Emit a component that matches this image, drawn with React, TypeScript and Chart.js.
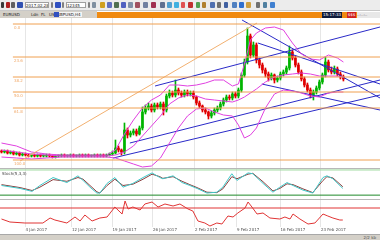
import React, { useEffect, useRef } from "react";
import { Chart, registerables } from "chart.js";
Chart.register(...registerables);

const opens = [
  1213,1212,1213,1211,1212,1210,1211,1209,1210,1209,
  1208,1209,1208,1209,1208,1208,1209,1208,1207,1208,
  1208,1209,1208,1208,1209,1208,1208,1209,1208,1209,
  1208,1208,1209,1208,1209,1208,1209,1210,1211,1216,
  1214,1212,1234,1229,1231,1233,1230,1236,1252,1256,
  1258,1254,1259,1257,1260,1254,1268,1271,1269,1274,
  1271,1269,1272,1270,1271,1267,1261,1258,1254,1252,
  1248,1251,1254,1256,1260,1264,1267,1266,1270,1268,
  1274,1289,1302,1328,1309,1319,1304,1299,1294,1290,
  1286,1289,1284,1286,1290,1292,1296,1312,1306,1299,
  1292,1285,1279,1274,1269,1272,1276,1282,1289,1302,
  1294,1292,1295,1290,1287,
];
const closes = [
  1212,1213,1211,1212,1210,1211,1209,1210,1209,1208,
  1209,1208,1209,1208,1208,1209,1208,1207,1208,1208,
  1209,1208,1208,1209,1208,1208,1209,1208,1209,1208,
  1208,1209,1208,1209,1208,1209,1210,1211,1216,1214,
  1212,1234,1229,1231,1233,1230,1236,1252,1256,1258,
  1254,1259,1257,1260,1254,1268,1271,1269,1274,1271,
  1269,1272,1270,1271,1267,1261,1258,1254,1252,1248,
  1251,1254,1256,1260,1264,1267,1266,1270,1268,1274,
  1289,1302,1328,1309,1319,1304,1299,1294,1290,1286,
  1289,1284,1286,1290,1292,1296,1312,1306,1299,1292,
  1285,1279,1274,1269,1272,1276,1282,1289,1302,1294,
  1292,1295,1290,1287,1285,
];
const highs = [
  1214,1214,1214,1213,1213,1212,1212,1211,1211,1210,
  1210,1210,1210,1210,1209,1210,1210,1209,1209,1209,
  1210,1210,1209,1210,1210,1209,1210,1210,1210,1210,
  1209,1210,1210,1210,1210,1210,1211,1213,1224,1218,
  1215,1241,1236,1233,1235,1235,1238,1257,1259,1261,
  1260,1261,1261,1262,1262,1270,1274,1273,1284,1276,
  1273,1274,1274,1273,1273,1268,1263,1259,1256,1253,
  1253,1256,1258,1262,1266,1269,1269,1272,1272,1276,
  1291,1305,1336,1330,1322,1321,1306,1301,1296,1292,
  1291,1290,1288,1292,1294,1298,1318,1314,1308,1301,
  1294,1287,1281,1276,1274,1278,1284,1291,1307,1304,
  1297,1298,1297,1292,1289,
];
const lows = [
  1211,1211,1210,1210,1209,1209,1208,1208,1208,1207,
  1207,1207,1207,1207,1207,1207,1207,1206,1206,1207,
  1207,1207,1207,1207,1207,1207,1207,1207,1207,1207,
  1207,1207,1207,1207,1207,1207,1208,1209,1210,1212,
  1209,1210,1226,1227,1229,1228,1229,1234,1250,1254,
  1252,1252,1255,1255,1249,1252,1266,1267,1267,1269,
  1267,1267,1268,1268,1265,1259,1256,1252,1250,1245,
  1246,1249,1252,1254,1258,1262,1264,1264,1266,1266,
  1272,1287,1300,1306,1307,1301,1296,1291,1287,1283,
  1284,1281,1282,1284,1288,1290,1294,1304,1297,1290,
  1283,1277,1272,1266,1264,1270,1274,1280,1287,1292,
  1290,1290,1288,1285,1283,
];

const bbIdx = [0,5,10,15,20,25,30,35,38,41,44,47,50,53,56,59,62,65,68,71,74,77,79,81,83,85,88,91,94,97,100,103,106,109,112,114];
const bbUpper = [1221,1218,1212,1210,1209,1209,1209,1209,1214,1230,1244,1256,1264,1269,1279,1279,1278,1279,1281,1284,1284,1278,1280,1300,1324,1331,1336,1337,1334,1321,1310,1305,1304,1309,1306,1302];
const bbMiddle = [1214,1212,1210,1209,1208,1208,1208,1208,1209,1212,1218,1228,1238,1248,1260,1266,1269,1268,1265,1264,1263,1262,1264,1267,1271,1275,1282,1287,1289,1290,1291,1290,1288,1288,1288,1287];
const bbLower = [1207,1206,1205,1206,1207,1207,1207,1207,1206,1203,1200,1197,1198,1206,1221,1236,1248,1255,1256,1252,1249,1248,1239,1226,1229,1236,1256,1270,1274,1273,1271,1268,1267,1271,1272,1272];

const fibLevels = [1340, 1307, 1287, 1272, 1256, 1204];
const fibLabels = ["0.0", "23.6", "38.2", "50.0", "61.8", "100.0"];
const fibStart = 3.8;
const rightEnd = 126.2;

// trend lines: [x1, price1, x2, price2]
const blueLines = [
  [80.2, 1344, 126.2, 1266],
  [85.5, 1321, 126.2, 1280],
  [51.2, 1278, 126.2, 1337],
  [42.8, 1221, 126.2, 1284],
  [37.2, 1206, 126.2, 1269],
  [86.8, 1280, 126.2, 1254],
];
const orangeLine = [6.2, 1203, 85.2, 1341];

const gridIdx = [8, 23.5, 37, 50.5, 64.5, 78.5, 93, 106.5];
const xLabels = ["4 Jan 2017", "12 Jan 2017", "19 Jan 2017", "26 Jan 2017", "2 Feb 2017", "9 Feb 2017", "16 Feb 2017", "23 Feb 2017"];

const stochX = [0,6.2,10.2,12.8,17.2,21.8,25.5,27.2,29.5,31.8,32.8,35.2,37.8,40.5,43.8,47.2,50.2,52.8,53.8,57.2,60.2,62.8,65.2,68.5,71.8,73.8,76.8,78.5,82.2,83.8,87.2,90.5,92.8,95.2,97.2,100.5,103.8,107.2,108.5,110.5,113.8];
const stochK = [43,36,29,43,62,50,66,55,39,25,25,48,62,39,48,62,73,62,59,66,50,43,36,25,27,39,71,55,73,71,48,27,39,50,43,32,25,62,66,59,36];
const stochD = [45,38,31,39,57,53,62,58,43,28,25,43,58,43,46,58,70,64,60,64,53,45,38,27,26,35,64,59,70,72,52,30,36,47,45,35,26,55,64,61,40];
const stochLevels = [80, 20];

const rsiX = [0,2.8,7.8,13.8,16.2,17.8,21.8,24.5,26.2,27.8,30.2,32.8,35.2,37.8,40.2,41.2,42.2,43.8,46.2,47.8,50.2,52.2,54.5,57.2,59.5,62.2,63.8,65.5,67.8,69.5,71.8,73.5,75.5,77.2,78.8,81.2,82.2,83.5,85.2,87.2,89.5,92.8,94.5,96.2,97.2,99.5,102.2,104.5,107.2,108.8,110.5,112.8,113.8];
const rsiV = [42.5,35,32.5,32.5,45,40,32.5,47.5,37.5,52.5,37.5,45,47.5,72.5,55,87.5,67.5,72.5,65,80,85,72.5,80,75,80,67.5,62.5,37.5,32.5,25,32.5,30,50,47.5,57.5,70,85,72.5,55,57.5,45,42.5,47.5,42.5,55,42.5,30,32.5,55,50,45,40,40];
const rsiLevel = 70;

const UP = "#00b400";
const DOWN = "#e00000";

function xScale(extra: any = {}) {
  return {
    type: "linear",
    min: -0.5,
    max: rightEnd,
    offset: false,
    display: true,
    afterBuildTicks: (axis: any) => {
      axis.ticks = gridIdx.map((v) => ({ value: v }));
    },
    ticks: { display: false },
    grid: { color: "#e6e6e6", drawTicks: false, offset: false },
    border: { display: false },
    ...extra,
  };
}

export default function App() {
  const mainRef = useRef<HTMLCanvasElement>(null);
  const stochRef = useRef<HTMLCanvasElement>(null);
  const rsiRef = useRef<HTMLCanvasElement>(null);

  useEffect(() => {
    document.body.style.margin = "0";
    const charts: Chart[] = [];
    const colors = closes.map((c, i) => (c >= opens[i] ? UP : DOWN));

    const fibLabelPlugin = {
      id: "fibLabels",
      afterDatasetsDraw(chart: any) {
        const { ctx, scales } = chart;
        ctx.save();
        ctx.font = "4px 'DejaVu Sans'";
        ctx.fillStyle = "#f0a868";
        ctx.textBaseline = "top";
        fibLevels.forEach((lv, i) => {
          const x = scales.x.getPixelForValue(fibStart) + 1;
          const y = scales.y.getPixelForValue(lv) + 2;
          ctx.fillText(fibLabels[i], x, y);
        });
        ctx.restore();
      },
    };

    const lineDs = (data: any[], color: string, width = 1) => ({
      type: "line",
      data,
      borderColor: color,
      borderWidth: width,
      pointRadius: 0,
      fill: false,
      tension: 0,
    });

    const datasets: any[] = [];
    fibLevels.forEach((lv) => {
      datasets.push(lineDs([{ x: fibStart, y: lv }, { x: rightEnd, y: lv }], "#f0a050"));
    });
    datasets.push(lineDs([{ x: orangeLine[0], y: orangeLine[1] }, { x: orangeLine[2], y: orangeLine[3] }], "#f2b070"));
    datasets.push(lineDs(bbIdx.map((x, i) => ({ x, y: bbUpper[i] })), "#e040e0"));
    datasets.push(lineDs(bbIdx.map((x, i) => ({ x, y: bbMiddle[i] })), "#e040e0"));
    datasets.push(lineDs(bbIdx.map((x, i) => ({ x, y: bbLower[i] })), "#e040e0"));
    blueLines.forEach((l) => {
      datasets.push(lineDs([{ x: l[0], y: l[1] }, { x: l[2], y: l[3] }], "#2a2ac8"));
    });
    datasets.push({
      type: "bar",
      data: closes.map((_, i) => ({ x: i, y: [lows[i], highs[i]] })),
      backgroundColor: colors,
      barThickness: 1,
      grouped: false,
      minBarLength: 1,
    });
    datasets.push({
      type: "bar",
      data: closes.map((c, i) => ({ x: i, y: [opens[i], c] })),
      backgroundColor: colors,
      barThickness: 2,
      grouped: false,
      minBarLength: 1,
    });

    const common = {
      animation: false,
      responsive: false,
      maintainAspectRatio: false,
      layout: { padding: 0 },
      plugins: { legend: { display: false }, tooltip: { enabled: false } },
    };

    charts.push(
      new Chart(mainRef.current!, {
        type: "line",
        data: { datasets },
        options: {
          ...common,
          scales: {
            x: xScale(),
            y: { min: 1196, max: 1346, display: false },
          },
        } as any,
        plugins: [fibLabelPlugin],
      } as any)
    );

    const stochLabelPlugin = {
      id: "stochLabel",
      afterDraw(chart: any) {
        const { ctx } = chart;
        ctx.save();
        ctx.font = "4px 'DejaVu Sans'";
        ctx.fillStyle = "#404040";
        ctx.textBaseline = "top";
        ctx.fillText("Stoch(5,3,3)", 2, 3);
        ctx.restore();
      },
    };

    charts.push(
      new Chart(stochRef.current!, {
        type: "line",
        data: {
          datasets: [
            lineDs([{ x: -0.5, y: stochLevels[0] }, { x: rightEnd, y: stochLevels[0] }], "#9ad89a"),
            lineDs([{ x: -0.5, y: stochLevels[1] }, { x: rightEnd, y: stochLevels[1] }], "#1f8a2a"),
            lineDs(stochX.map((x, i) => ({ x, y: stochK[i] })), "#40c8c8"),
            lineDs(stochX.map((x, i) => ({ x, y: stochD[i] })), "#8a3c3c"),
          ],
        },
        options: {
          ...common,
          scales: {
            x: xScale(),
            y: { min: 10.8, max: 82.3, display: false },
          },
        } as any,
        plugins: [stochLabelPlugin],
      } as any)
    );

    charts.push(
      new Chart(rsiRef.current!, {
        type: "line",
        data: {
          datasets: [
            lineDs([{ x: -0.5, y: rsiLevel }, { x: rightEnd, y: rsiLevel }], "#e03434"),
            lineDs(rsiX.map((x, i) => ({ x, y: rsiV[i] })), "#e03434"),
          ],
        },
        options: {
          ...common,
          scales: {
            x: xScale({
              ticks: {
                display: true,
                align: "start",
                padding: 1,
                font: { size: 4, family: "'DejaVu Sans'" },
                color: "#505050",
                maxRotation: 0,
                autoSkip: false,
                callback: (_v: any, i: number) => xLabels[i],
              },
              afterFit: (axis: any) => {
                axis.height = 7;
              },
            }),
            y: { min: 22.5, max: 90, display: false },
          },
        } as any,
      } as any)
    );

    return () => charts.forEach((c) => c.destroy());
  }, []);

  const tb: React.CSSProperties = { position: "absolute", top: 2, height: 6 };
  const icon = (left: number, color: string, w = 5): React.ReactNode => (
    <div key={"i" + left} style={{ ...tb, left, width: w, background: color, borderRadius: 1 }} />
  );
  const txt = (left: number, s: string, w: number): React.ReactNode => (
    <div
      key={"t" + left}
      style={{
        ...tb,
        left,
        width: w,
        background: "#ffffff",
        border: "1px solid #a0a0a0",
        boxSizing: "border-box",
        fontSize: 4,
        lineHeight: "5px",
        fontFamily: "DejaVu Sans",
        color: "#202020",
        overflow: "hidden",
        whiteSpace: "nowrap",
      }}
    >
      {s}
    </div>
  );

  return (
    <div
      style={{
        position: "relative",
        width: 380,
        height: 240,
        background: "#ffffff",
        overflow: "hidden",
        fontFamily: "DejaVu Sans",
      }}
    >
      {/* toolbar */}
      <div style={{ position: "absolute", left: 0, top: 0, width: 380, height: 10, background: "#ececec", borderBottom: "1px solid #c8c8c8" }}>
        {icon(1, "#3a3a3a", 3)}
        {icon(6, "#b02020", 4)}
        {icon(11, "#606060", 4)}
        {icon(17, "#3050b0", 6)}
        {txt(25, "2017.02.28 12", 24)}
        {icon(51, "#808080", 2)}
        {icon(55, "#3050c0", 6)}
        {icon(62, "#808080", 2)}
        {txt(66, "12345", 20)}
        {icon(88, "#808080", 2)}
        {icon(92, "#8090a0", 4)}
        {icon(100, "#d0a020", 5)}
        {icon(107, "#6070c0", 5)}
        {icon(114, "#507050", 5)}
        {icon(121, "#5060c0", 5)}
        {icon(128, "#8090a8", 5)}
        {icon(135, "#a05060", 5)}
        {icon(143, "#7080a0", 5)}
        {icon(151, "#a03050", 5)}
        {icon(160, "#607090", 5)}
        {icon(167, "#50a0d0", 5)}
        {icon(174, "#40b0e0", 5)}
        {icon(181, "#e05050", 4)}
        {icon(188, "#c03030", 5)}
        {icon(196, "#50a050", 4)}
        {icon(202, "#b08030", 4)}
        {icon(210, "#5070b0", 5)}
        {icon(217, "#707070", 4)}
        {icon(224, "#4060a0", 4)}
        {icon(232, "#5080c0", 5)}
        {icon(239, "#3070d0", 5)}
        {icon(246, "#d0a040", 5)}
        {icon(256, "#707070", 4)}
        {icon(263, "#5080a0", 4)}
        {icon(270, "#4080d0", 5)}
      </div>
      {/* tab strip */}
      <div style={{ position: "absolute", left: 0, top: 11, width: 97, height: 7, background: "#d4d0c8" }}>
        {["EURUSD", "Ldn", "FL", "US", "GBPUSD,H4"].map((s, i) => (
          <span
            key={s}
            style={{
              position: "absolute",
              left: [2, 30, 40, 48, 56][i],
              top: 1,
              fontSize: 4,
              lineHeight: "5px",
              color: "#202020",
              background: i === 4 ? "#f4f4f4" : "transparent",
              padding: "0 1px",
            }}
          >
            {s}
          </span>
        ))}
        <div style={{ position: "absolute", left: 54, top: 1, width: 5, height: 5, background: "#3050c0" }} />
      </div>
      <div style={{ position: "absolute", left: 97, top: 12, width: 283, height: 6, background: "#f08a10" }} />
      <div
        style={{
          position: "absolute",
          left: 322,
          top: 12,
          width: 20,
          height: 6,
          background: "#101c3c",
          color: "#ffffff",
          fontSize: 4,
          lineHeight: "6px",
          textAlign: "center",
        }}
      >
        15:17:33
      </div>
      <div style={{ position: "absolute", left: 347, top: 12, width: 9, height: 6, background: "#d02020", color: "#fff", fontSize: 4, lineHeight: "6px", textAlign: "center" }}>
        $$$
      </div>
      <div style={{ position: "absolute", left: 357, top: 12, width: 23, height: 6, background: "#e8e8e8", color: "#606060", fontSize: 4, lineHeight: "6px" }}>
        ..:..:..
      </div>

      {/* main chart */}
      <canvas ref={mainRef} width={380} height={150} style={{ position: "absolute", left: 0, top: 18 }} />
      <div style={{ position: "absolute", left: 0, top: 168, width: 380, height: 1, background: "#b8b8b8" }} />
      <canvas ref={stochRef} width={380} height={30} style={{ position: "absolute", left: 0, top: 169 }} />
      <div style={{ position: "absolute", left: 0, top: 199, width: 380, height: 1, background: "#b8b8b8" }} />
      <canvas ref={rsiRef} width={380} height={34} style={{ position: "absolute", left: 0, top: 200 }} />
      {/* status bar */}
      <div style={{ position: "absolute", left: 0, top: 234, width: 380, height: 6, background: "#d4d0c8", borderTop: "1px solid #a8a8a8" }}>
        <span style={{ position: "absolute", right: 4, top: 0, fontSize: 4, lineHeight: "5px", color: "#505050" }}>2/2 kb</span>
      </div>
    </div>
  );
}
